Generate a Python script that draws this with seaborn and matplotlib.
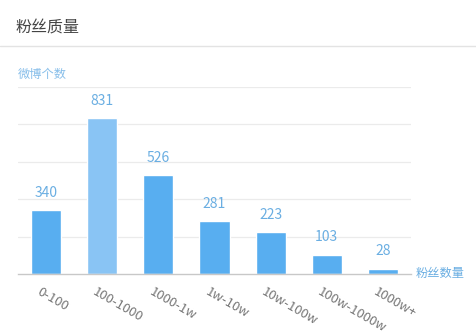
import matplotlib
matplotlib.use("Agg")
import matplotlib.pyplot as plt
import seaborn as sns
import pandas as pd

# Fan-count buckets and number of posts in each
categories = ["0-100", "100-1000", "1000-1w", "1w-10w", "10w-100w", "100w-1000w", "1000w+"]
counts = [340, 831, 526, 281, 223, 103, 28]
highlight = "100-1000"

title = "粉丝质量"
y_name = "微博个数"
x_name = "粉丝数量"

sns.set_theme(style="white")
plt.rcParams["font.family"] = ["Noto Sans CJK SC", "DejaVu Sans"]

BAR = "#58aef0"
BAR_HI = "#89c4f4"
LABEL = "#6aaee2"

df = pd.DataFrame({"bucket": categories, "count": counts})
palette = {c: (BAR_HI if c == highlight else BAR) for c in categories}

fig = plt.figure(figsize=(4.76, 3.34), dpi=100)
fig.patch.set_facecolor("white")
ax = fig.add_axes([18 / 476, 1 - 274 / 334, (411 - 18) / 476, (274 - 86.5) / 334])

sns.barplot(data=df, x="bucket", y="count", hue="bucket", palette=palette,
            legend=False, width=0.535, saturation=1, ax=ax, zorder=3)

ax.set_ylim(0, 1000)
ax.set_xlim(-0.5, len(categories) - 0.5)
ax.set_yticks([200, 400, 600, 800, 1000])
ax.yaxis.grid(True, color="#ebebeb", linewidth=0.9, zorder=0)
ax.tick_params(axis="y", left=False, labelleft=False)
ax.tick_params(axis="x", bottom=False, labelbottom=False)
ax.set_xlabel("")
ax.set_ylabel("")
for side in ["top", "right", "left"]:
    ax.spines[side].set_visible(False)
ax.spines["bottom"].set_color("#c8c8c8")
ax.spines["bottom"].set_linewidth(1.0)
ax.spines["bottom"].set_zorder(4)

# value labels above bars
for i, v in enumerate(counts):
    ax.annotate(str(v), (i, v), xytext=(0, 7.5), textcoords="offset points",
                ha="center", va="bottom", fontsize=10, color=LABEL)

# rotated category labels
for i, c in enumerate(categories):
    ax.annotate(c, (i - 0.09, 0), xytext=(0, -8), textcoords="offset points",
                ha="left", va="top", rotation=-30, rotation_mode="anchor",
                fontsize=9.5, color="#777777", style="italic",
                annotation_clip=False)

# header and axis names
fig.text(16 / 476, 1 - 28 / 334, title, fontsize=11.5, color="#444444",
         ha="left", va="center")
fig.add_artist(plt.Line2D([0, 1], [1 - 46 / 334, 1 - 46 / 334],
                          color="#e3e3e3", linewidth=1, transform=fig.transFigure))
fig.text(18 / 476, 1 - 74 / 334, y_name, fontsize=8.8, color="#88bfea",
         ha="left", va="center")
fig.text(416 / 476, 1 - 273 / 334, x_name, fontsize=8.8, color=LABEL,
         ha="left", va="center")

fig.savefig("out.png", dpi=100, facecolor="white")
